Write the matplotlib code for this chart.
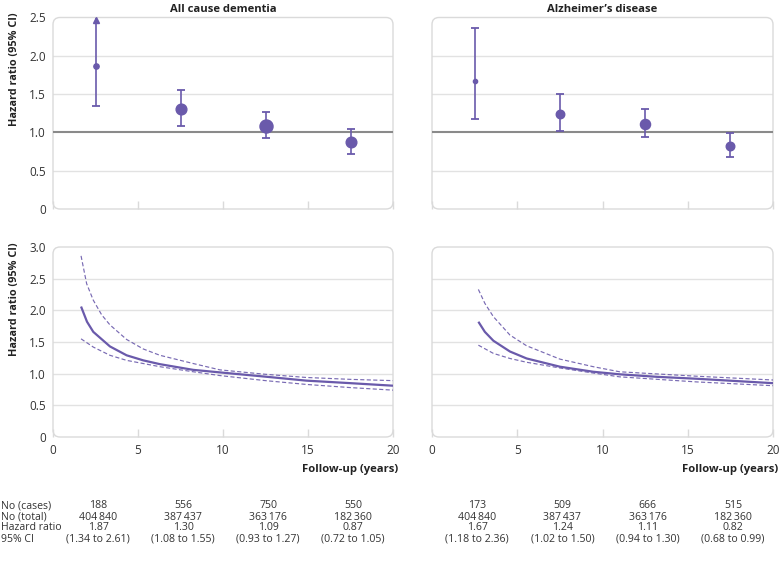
import matplotlib
matplotlib.use("Agg")
import matplotlib.pyplot as plt
import matplotlib.transforms as mtransforms
from matplotlib.patches import FancyBboxPatch

plt.rcParams['font.family'] = ['Open Sans', 'DejaVu Sans']

# ---------------- data ----------------
titles = ["All cause dementia", "Alzheimer\u2019s disease"]
period_mid = [2.5, 7.5, 12.5, 17.5]

dem_cases = [188, 556, 750, 550]
dem_total = [404840, 387437, 363176, 182360]
dem_hr = [1.87, 1.30, 1.09, 0.87]
dem_lo = [1.34, 1.08, 0.93, 0.72]
dem_hi = [2.61, 1.55, 1.27, 1.05]

alz_cases = [173, 509, 666, 515]
alz_total = [404840, 387437, 363176, 182360]
alz_hr = [1.67, 1.24, 1.11, 0.82]
alz_lo = [1.18, 1.02, 0.94, 0.68]
alz_hi = [2.36, 1.50, 1.30, 0.99]

# continuous hazard ratio curves (years, HR)
dem_main_x = [1.65, 2.0, 2.37, 3.35, 4.33, 5.31, 6.29, 8.25, 9.82, 12.6, 14.9, 17.5, 20.0]
dem_main_y = [2.06, 1.82, 1.66, 1.43, 1.29, 1.21, 1.15, 1.06, 1.02, 0.95, 0.89, 0.85, 0.81]
dem_up_x = [1.65, 1.98, 2.37, 2.86, 3.35, 4.33, 5.31, 6.29, 8.25, 9.82, 12.5, 14.9, 17.5, 20.0]
dem_up_y = [2.86, 2.42, 2.16, 1.93, 1.77, 1.54, 1.39, 1.29, 1.16, 1.06, 0.99, 0.94, 0.91, 0.89]
dem_lo_x = [1.65, 2.37, 3.35, 4.33, 6.29, 8.25, 9.82, 12.5, 14.9, 17.5, 20.0]
dem_lo_y = [1.55, 1.42, 1.29, 1.21, 1.11, 1.03, 0.97, 0.89, 0.83, 0.78, 0.74]

alz_main_x = [2.72, 3.1, 3.6, 4.57, 5.55, 7.5, 9.46, 11.0, 13.2, 15.5, 20.0]
alz_main_y = [1.82, 1.66, 1.52, 1.35, 1.24, 1.11, 1.03, 0.99, 0.95, 0.92, 0.85]
alz_up_x = [2.72, 3.1, 3.6, 4.57, 5.55, 7.5, 9.46, 11.0, 15.5, 20.0]
alz_up_y = [2.33, 2.11, 1.90, 1.61, 1.44, 1.23, 1.11, 1.03, 0.96, 0.90]
alz_lo_x = [2.72, 3.6, 4.57, 5.55, 7.5, 9.46, 11.0, 15.5, 20.0]
alz_lo_y = [1.45, 1.32, 1.24, 1.18, 1.09, 1.01, 0.95, 0.87, 0.81]

row_labels = ["No (cases)", "No (total)", "Hazard ratio", "95% CI"]
x_ticks = [0, 5, 10, 15, 20]
top_yticks = [0, 0.5, 1.0, 1.5, 2.0, 2.5]
bot_yticks = [0, 0.5, 1.0, 1.5, 2.0, 2.5, 3.0]

# ---------------- style ----------------
W, H = 780, 561
PURPLE = "#6A5AAB"
GRID = "#e2e2e2"
FRAME = "#dadada"
REF = "#8a8a8a"
TXT = "#333333"
TICKFS = 8.5
TITLEFS = 8.1
LABFS = 7.8
TFS = 7.6

fig = plt.figure(figsize=(W / 100, H / 100), dpi=100)


def fx(px):
    return px / W


def fy(py):
    return 1 - py / H


def make_ax(x0, x1, ytop, ybot):
    return fig.add_axes([fx(x0), fy(ybot), fx(x1) - fx(x0), fy(ytop) - fy(ybot)])


ax_tl = make_ax(53, 393, 17.5, 209)
ax_tr = make_ax(432, 773, 17.5, 209)
ax_bl = make_ax(53, 393, 247, 437)
ax_br = make_ax(432, 773, 247, 437)


def style(ax, ymax, yticks, show_ylab, show_xlab, grid_skip_ref):
    ax.set_xlim(0, 20)
    ax.set_ylim(0, ymax)
    for s in ax.spines.values():
        s.set_visible(False)
    for yv in yticks[1:]:
        if grid_skip_ref and yv == 1.0:
            continue
        if yv >= ymax:
            continue
        ax.axhline(yv, color=GRID, lw=1.0, zorder=0)
    ax.set_xticks(x_ticks)
    ax.set_yticks(yticks)
    ax.set_yticklabels([("0" if v == 0 else f"{v:.1f}") for v in yticks] if show_ylab else [])
    ax.set_xticklabels([str(v) for v in x_ticks] if show_xlab else [])
    ax.tick_params(axis='y', length=0, pad=5, labelsize=TICKFS, labelcolor=TXT)
    ax.tick_params(axis='x', direction='in', length=6, color=FRAME, width=1.0,
                   pad=5, labelsize=TICKFS, labelcolor=TXT)
    bb = ax.get_position()
    wpx = bb.width * W
    hpx = bb.height * H
    r = 7.0 / wpx
    patch = FancyBboxPatch((0, 0), 1, 1, boxstyle=f"round,pad=0,rounding_size={r}",
                           mutation_aspect=wpx / hpx, transform=ax.transAxes,
                           facecolor='none', edgecolor=FRAME, lw=1.0,
                           clip_on=False, zorder=1)
    ax.add_patch(patch)


style(ax_tl, 2.5, top_yticks, True, False, True)
style(ax_tr, 2.5, top_yticks, False, False, True)
style(ax_bl, 3.0, bot_yticks, True, True, False)
style(ax_br, 3.0, bot_yticks, False, True, False)

for ax, t in [(ax_tl, titles[0]), (ax_tr, titles[1])]:
    ax.set_title(t, fontsize=TITLEFS, fontweight='bold', color='#222222', pad=4)

for ax in (ax_tl, ax_bl):
    ax.text(-0.112, 1.025, "Hazard ratio (95% CI)", rotation=90, va='top', ha='center',
            transform=ax.transAxes, fontsize=LABFS, fontweight='bold', color='#222222')

for ax in (ax_bl, ax_br):
    ax.text(1.015, -0.17, "Follow-up (years)", ha='right', va='center',
            transform=ax.transAxes, fontsize=TITLEFS, fontweight='bold', color='#222222')


# ---------------- top panels: period specific hazard ratios ----------------
def forest(ax, cases, hr, lo, hi, maxd):
    ymax = ax.get_ylim()[1]
    ax.axhline(1.0, color=REF, lw=1.5, zorder=2)
    cmax = max(cases)
    for x, c, h, l, u in zip(period_mid, cases, hr, lo, hi):
        top = min(u, ymax)
        ax.plot([x, x], [l, top], color=PURPLE, lw=1.2, zorder=3, solid_capstyle='butt')
        ax.plot(x, l, marker='_', ms=6, mew=1.3, color=PURPLE, zorder=3)
        if u > ymax:
            ax.plot(x, ymax - 0.03, marker='^', ms=4.5, color=PURPLE, zorder=4, clip_on=False)
        else:
            ax.plot(x, u, marker='_', ms=6, mew=1.3, color=PURPLE, zorder=3)
        d = maxd * (c / cmax) ** 0.65
        ax.plot(x, h, marker='o', ms=d, color=PURPLE, mec=PURPLE, zorder=5)


forest(ax_tl, dem_cases, dem_hr, dem_lo, dem_hi, 9.4)
forest(ax_tr, alz_cases, alz_hr, alz_lo, alz_hi, 7.3)


# ---------------- bottom panels: continuous curves ----------------
def curves(ax, mx, my, ux, uy, lx, ly):
    ax.plot(mx, my, color=PURPLE, lw=1.6, zorder=4, solid_capstyle='butt',
            solid_joinstyle='round')
    for xx, yy in [(ux, uy), (lx, ly)]:
        ax.plot(xx, yy, color=PURPLE, lw=0.85, ls=(0, (3.5, 2)), zorder=3, alpha=0.9)


curves(ax_bl, dem_main_x, dem_main_y, dem_up_x, dem_up_y, dem_lo_x, dem_lo_y)
curves(ax_br, alz_main_x, alz_main_y, alz_up_x, alz_up_y, alz_lo_x, alz_lo_y)


# ---------------- table ----------------
def fmt_int(n):
    s = f"{n:,}"
    return s.replace(",", "\u2009")


row_y = [506, 517, 528, 539]
for lab, py in zip(row_labels, row_y):
    fig.text(fx(1), fy(py), lab, ha='left', va='center', fontsize=TFS, color=TXT)

for ax, cases, total, hr, lo, hi in [(ax_bl, dem_cases, dem_total, dem_hr, dem_lo, dem_hi),
                                     (ax_br, alz_cases, alz_total, alz_hr, alz_lo, alz_hi)]:
    tr = mtransforms.blended_transform_factory(ax.transData, fig.transFigure)
    for x, c, t, h, l, u in zip(period_mid, cases, total, hr, lo, hi):
        vals = [str(c), fmt_int(t), f"{h:.2f}", f"({l:.2f} to {u:.2f})"]
        for v, py in zip(vals, row_y):
            ax.text(x + 0.15, fy(py), v, ha='center', va='center', transform=tr,
                    fontsize=TFS, color=TXT, clip_on=False)

fig.savefig("out.png", dpi=100)
